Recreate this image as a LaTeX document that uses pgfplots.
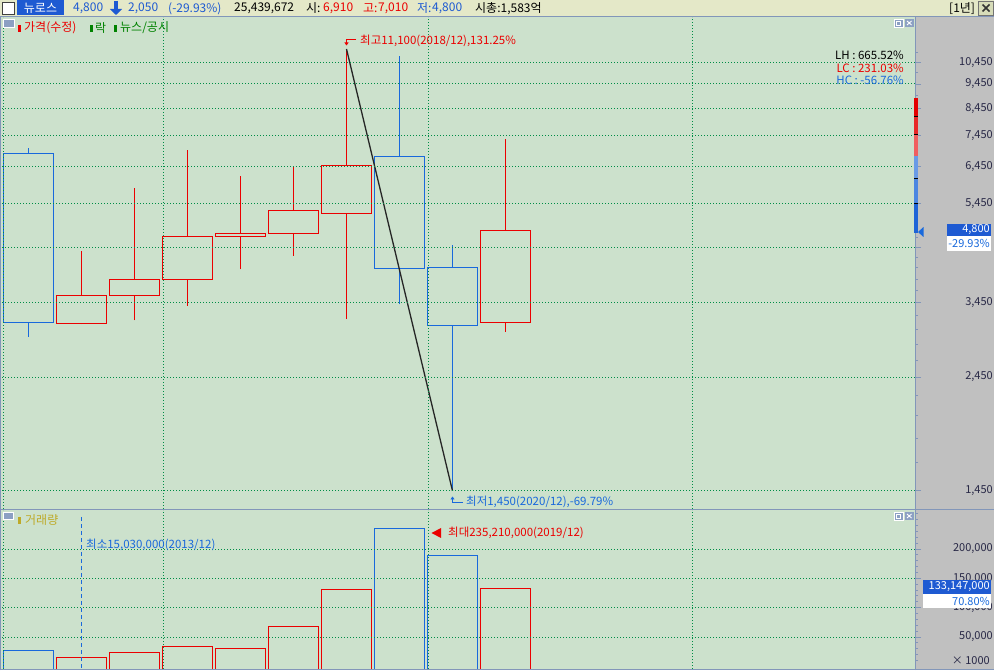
\documentclass[border=0pt]{standalone}
\usepackage{pgfplots}
\pgfplotsset{compat=1.18}
\usepackage{fontspec}
\setmainfont{Noto Sans CJK KR}
\usetikzlibrary{arrows.meta}

\definecolor{bg}{RGB}{204,225,204}
\definecolor{side}{RGB}{192,192,192}
\definecolor{head}{RGB}{228,232,200}
\definecolor{frame}{RGB}{130,150,185}
\definecolor{up}{RGB}{235,0,0}
\definecolor{dn}{RGB}{25,105,220}
\definecolor{hblue}{RGB}{30,90,210}
\definecolor{grd}{RGB}{0,140,70}
\definecolor{lbl}{RGB}{40,40,70}
\definecolor{olive}{RGB}{190,170,40}
\definecolor{icon}{RGB}{140,160,195}
\definecolor{newsg}{RGB}{0,130,0}
\definecolor{btn}{RGB}{215,220,185}
\definecolor{pb1}{RGB}{228,0,0}
\definecolor{pb2}{RGB}{232,40,40}
\definecolor{pb3}{RGB}{240,95,95}
\definecolor{pb4}{RGB}{105,155,230}
\definecolor{pb5}{RGB}{75,135,225}
\definecolor{pb6}{RGB}{30,100,215}

\newcommand\fh{\fontsize{12}{14}\selectfont}
\newcommand\fa{\fontsize{11.5}{13}\selectfont}

% x, left, right, open, high, low, close, colour
\newcommand\candle[8]{%
  \addplot[draw=#8, line width=1pt, forget plot] coordinates {(#1,#6) (#1,#5)};
  \addplot[draw=#8, line width=1pt, fill=bg, forget plot] coordinates {(#2,#4) (#3,#4) (#3,#7) (#2,#7)} -- cycle;
}
% left, right, volume (thousands), colour
\newcommand\vbar[4]{%
  \addplot[draw=#4, line width=1pt, forget plot] coordinates {(#1,-10) (#1,#3) (#2,#3) (#2,-10)};
}

\pgfplotsset{chart/.style={
  scale only axis, anchor=south west,
  width=913pt, xmin=-0.5, xmax=16.7264,
  axis line style={draw=none},
  axis on top,
  xtick={-0.478,2.54,7.54,12.53}, xticklabels={},
  xtick style={draw=none},
  xmajorgrids, ymajorgrids,
  major grid style={grd, line width=0.9pt, dash pattern=on 0.9pt off 2.1pt},
  ytick pos=right, yticklabel pos=right,
  tick align=outside,
  major tick length=6pt, minor tick length=3pt,
  ytick style={frame, line width=0.8pt},
  yticklabel style={font=\fontsize{11}{13}\selectfont, text=lbl, anchor=east, inner xsep=0pt, xshift=72pt},
}}

\begin{document}
\begin{tikzpicture}[x=1pt,y=1pt]
\useasboundingbox (0,0) rectangle (994,670);
% panels
\fill[side] (0,0) rectangle (994,670);
\fill[head] (0,653.5) rectangle (994,670);
\fill[bg] (1,161) rectangle (915,653);
\fill[bg] (1,1) rectangle (915,160);

% price panel
\begin{axis}[chart, at={(2pt,161pt)}, height=492pt,
  ymode=log, ymin=1334, ymax=12863,
  ytick={1450,2450,3450,4450,5450,6450,7450,8450,9450,10450},
  yticklabels={{1,450},{2,450},{3,450},{},{5,450},{6,450},{7,450},{8,450},{9,450},{10,450}},
  minor ytick={1650,1850,2050,2250,2650,2850,3050,3250,3650,3850,4050,4250,4650,4850,5050,5250,5650,5850,6050,6250,6950,7950,8950,9950,10950},
]
\candle{0}{-0.4717}{0.4717}{6870}{7030}{2950}{3150}{dn}
\candle{1}{0.5283}{1.4717}{3140}{4380}{3125}{3570}{up}
\candle{2}{1.5283}{2.4717}{3570}{5850}{3180}{3845}{up}
\candle{3}{2.5283}{3.4717}{3845}{6970}{3405}{4685}{up}
\candle{4}{3.5283}{4.4717}{4685}{6190}{4020}{4750}{up}
\candle{5}{4.5283}{5.4717}{4750}{6450}{4285}{5280}{up}
\candle{6}{5.5283}{6.4717}{5210}{11100}{3200}{6500}{up}
\candle{7}{6.5283}{7.4717}{6770}{10750}{3425}{4045}{dn}
\candle{8}{7.5283}{8.4717}{4065}{4500}{1450}{3110}{dn}
\candle{9}{8.5283}{9.4717}{3150}{7330}{3020}{4800}{up}
% high-low line
\addplot[black!85, line width=1.3pt] coordinates {(6,11100) (8,1450)};
\end{axis}

% volume panel (thousands)
\begin{axis}[chart, at={(2pt,1pt)}, height=159pt,
  ymin=-4.6, ymax=266.4,
  ytick={50,100,150,200},
  yticklabels={{50,000},{100,000},{150,000},{200,000}},
  minor ytick={10,20,30,40,60,70,80,90,110,120,130,140,160,170,180,190,210,220,230,240,250,260},
]
\vbar{-0.4717}{0.4717}{26.1}{dn}
\vbar{0.5283}{1.4717}{15.03}{up}
\vbar{1.5283}{2.4717}{22.7}{up}
\vbar{2.5283}{3.4717}{33.4}{up}
\vbar{3.5283}{4.4717}{29.5}{up}
\vbar{4.5283}{5.4717}{67.1}{up}
\vbar{5.5283}{6.4717}{130.2}{up}
\vbar{6.5283}{7.4717}{235.21}{dn}
\vbar{7.5283}{8.4717}{188.2}{dn}
\vbar{8.5283}{9.4717}{133.147}{up}
\end{axis}

% frames
\draw[frame, line width=1pt] (0,653.5) -- (994,653.5);
\draw[frame, line width=1pt] (0,160.5) -- (994,160.5);
\draw[frame, line width=1pt] (915.5,0) -- (915.5,653.5);
\draw[frame, line width=1pt] (0.5,0) -- (0.5,653.5);
\draw[frame, line width=1.2pt] (0,0.6) -- (994,0.6);

% header
\draw[fill=white, draw=black!75, line width=0.8pt] (2.5,656) rectangle (14,668);
\fill[hblue] (17,654.5) rectangle (64,669.5);
\node[text=white, font=\fh, inner sep=0] at (40.5,661.5) {뉴로스};
\node[anchor=west, inner sep=0, text=hblue, font=\fh] at (73,661.5) {4,800};
\draw[hblue, line width=4pt, -{Triangle[width=12pt,length=6pt]}] (116,669) -- (116,655);
\node[anchor=west, inner sep=0, text=hblue, font=\fh] at (128,661.5) {2,050};
\node[anchor=west, inner sep=0, text=hblue, font=\fh] at (168,661.5) {(-29.93\%)};
\node[anchor=west, inner sep=0, text=black, font=\fh] at (234,661.5) {25,439,672};
\node[anchor=west, inner sep=0, text=black, font=\fh] at (306,661.5) {시:};
\node[anchor=west, inner sep=0, text=up, font=\fh] at (323,661.5) {6,910};
\node[anchor=west, inner sep=0, text=up, font=\fh] at (363,661.5) {고:};
\node[anchor=west, inner sep=0, text=up, font=\fh] at (378,661.5) {7,010};
\node[anchor=west, inner sep=0, text=hblue, font=\fh] at (417,661.5) {저:};
\node[anchor=west, inner sep=0, text=hblue, font=\fh] at (432,661.5) {4,800};
\node[anchor=west, inner sep=0, text=black, font=\fh] at (475,661.5) {시총:1,583억};
\node[anchor=west, inner sep=0, text=black, font=\fh] at (949,661.5) {[1년]};
\draw[fill=btn, draw=black!55, line width=0.8pt] (978.5,655) rectangle (993.5,669);
\draw[black!80, line width=1.6pt] (982.5,658.5) -- (989.5,665.5) (982.5,665.5) -- (989.5,658.5);

% price panel legend and icons
\draw[fill=icon, draw=white, line width=0.8pt] (3,643) rectangle (14,651);
\fill[up] (18,638) rectangle (21,645);
\node[anchor=west, inner sep=0, text=up, font=\fh] at (24,642) {가격(수정)};
\fill[newsg] (90,638) rectangle (93,645);
\node[anchor=west, inner sep=0, text=newsg, font=\fh] at (95,642) {락};
\fill[newsg] (114,638) rectangle (117,645);
\node[anchor=west, inner sep=0, text=newsg, font=\fh] at (120,642) {뉴스/공시};
\draw[fill=icon, draw=white, line width=0.8pt] (894,643) rectangle (903,651);
\draw[white, line width=0.8pt] (896.5,645) rectangle (900.5,649);
\fill[icon] (905,643) rectangle (913.5,651);
\draw[white, line width=0.9pt] (907,645) -- (911.5,649) (907,649) -- (911.5,645);

% LH / LC / HC
\node[anchor=east, inner sep=0, text=black, font=\fa] at (904,614.3) {LH : 665.52\%};
\node[anchor=east, inner sep=0, text=up, font=\fa] at (904,601.7) {LC : 231.03\%};
\node[anchor=east, inner sep=0, text=dn, font=\fa] at (904,589.3) {HC : -56.76\%};

% high / low labels
\draw[up, line width=1pt, -{Triangle[width=4pt,length=3pt]}] (356,630) -- (346.5,630) -- (346.5,624.5);
\node[anchor=west, inner sep=0, text=up, font=\fa] at (360,629.3) {최고11,100(2018/12),131.25\%};
\draw[dn, line width=1pt, -{Triangle[width=4pt,length=3pt]}] (463,167) -- (452.5,167) -- (452.5,173.5);
\node[anchor=west, inner sep=0, text=dn, font=\fa] at (466,168.3) {최저1,450(2020/12),-69.79\%};

% price position bar and current price
\fill[pb1] (914,554) rectangle (918,572.3);
\fill[pb2] (914,535) rectangle (918,554);
\fill[pb3] (914,514.3) rectangle (918,535);
\fill[pb4] (914,492) rectangle (918,514.3);
\fill[pb5] (914,466.3) rectangle (918,492);
\fill[pb6] (914,437) rectangle (918,466.3);
\draw[black, line width=0.8pt] (914,554) -- (918,554) (914,535.7) -- (918,535.7) (914,492) -- (918,492) (914,466.3) -- (918,466.3);
\fill[dn] (918,438) -- (923.5,443) -- (923.5,433) -- cycle;
\fill[hblue] (947,434) rectangle (991,446);
\node[anchor=east, inner sep=0, text=white, font=\fontsize{11}{13}\selectfont] at (990,440) {4,800};
\fill[white] (947,419) rectangle (991,434);
\node[anchor=east, inner sep=0, text=dn, font=\fontsize{11}{13}\selectfont] at (990,426.5) {-29.93\%};

% volume panel legend and icons
\draw[fill=icon, draw=white, line width=0.8pt] (3,151) rectangle (13.5,158);
\fill[olive] (18,146) rectangle (21,153);
\node[anchor=west, inner sep=0, text=olive, font=\fh] at (25,150) {거래량};
\draw[fill=icon, draw=white, line width=0.8pt] (894,150) rectangle (903,158);
\draw[white, line width=0.8pt] (896.5,152) rectangle (900.5,156);
\fill[icon] (905,150) rectangle (913.5,158);
\draw[white, line width=0.9pt] (907,152) -- (911.5,156) (907,156) -- (911.5,152);
\draw[dn, line width=1pt, dash pattern=on 4pt off 3pt] (81.5,153) -- (81.5,1.5);
\node[anchor=west, inner sep=0, text=dn, font=\fa] at (86,125) {최소15,030,000(2013/12)};
\fill[up] (431.5,137) -- (441,142) -- (441,132) -- cycle;
\node[anchor=west, inner sep=0, text=up, font=\fa] at (448,137) {최대235,210,000(2019/12)};
\fill[hblue] (923,76) rectangle (991,90);
\node[anchor=east, inner sep=0, text=white, font=\fontsize{11}{13}\selectfont] at (990,83) {133,147,000};
\fill[white] (923,62) rectangle (991,76);
\node[anchor=east, inner sep=0, text=dn, font=\fontsize{11}{13}\selectfont] at (990,69) {70.80\%};
\node[anchor=east, inner sep=0, text=lbl, font=\fontsize{11}{13}\selectfont] at (990,9.3) {× 1000};
\end{tikzpicture}
\end{document}
